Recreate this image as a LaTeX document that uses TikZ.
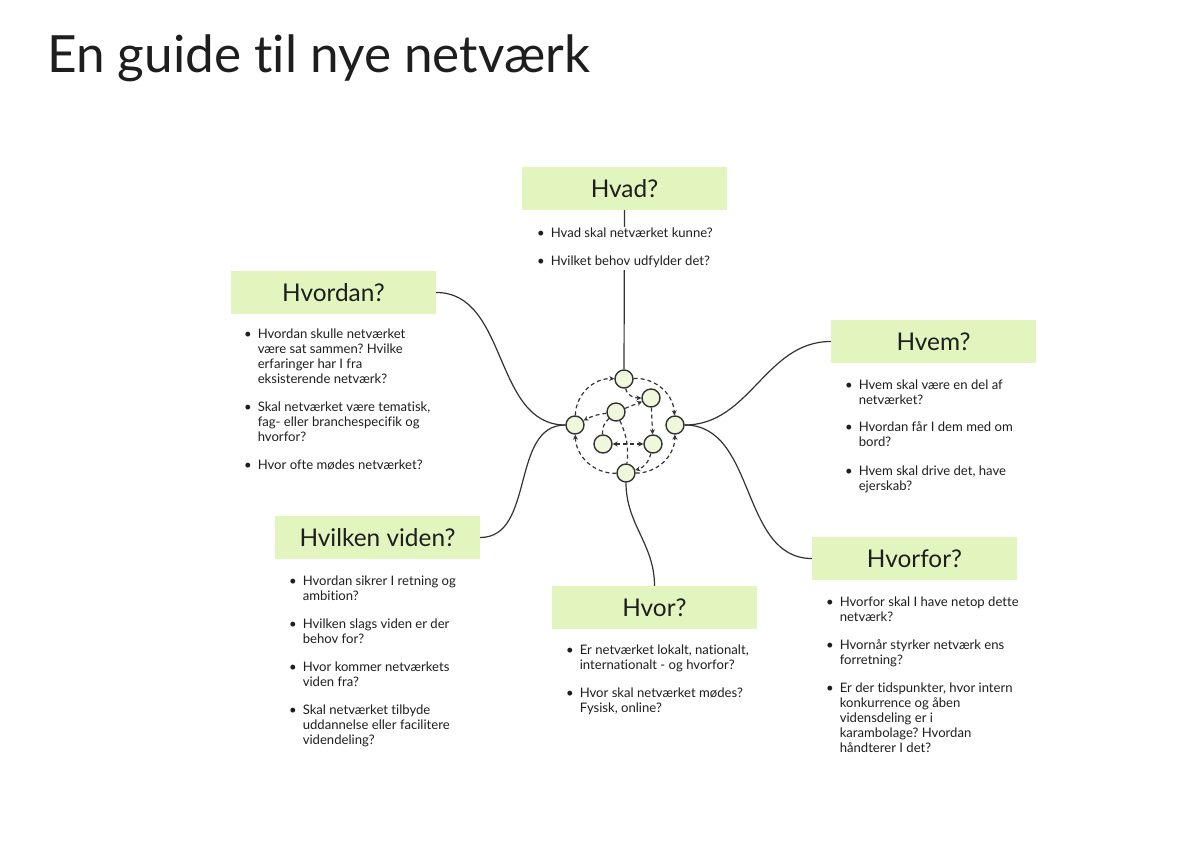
\documentclass[tikz,border=0pt]{standalone}
\usepackage{fontspec}
\setmainfont{Lato}[Ligatures=NoCommon]
\usetikzlibrary{arrows.meta}
\frenchspacing

\definecolor{boxgreen}{HTML}{E2F5BE}
\definecolor{dotgreen}{HTML}{F0F8DC}
\definecolor{inkgray}{HTML}{333333}
\definecolor{textblack}{HTML}{1E1E1E}

\tikzset{
  headbox/.style={fill=boxgreen, minimum width=205pt, minimum height=43pt, inner sep=0pt,
    font=\fontsize{24.4}{28}\selectfont, text=textblack},
  bullets/.style={anchor=base west, inner sep=0pt, font=\fontsize{13.1}{15}\selectfont, text=textblack},
  dot/.style={circle, draw=inkgray, fill=dotgreen, line width=1.4pt, minimum size=18pt, inner sep=0pt},
  link/.style={draw=inkgray, line width=1.2pt},
  flow/.style={draw=inkgray, line width=1.2pt, dash pattern=on 4pt off 3pt},
  tip/.style={-{Stealth[length=5pt,width=5pt]}},
}

\begin{document}
\begin{tikzpicture}[x=1pt,y=1pt]
  \fill[white] (0,0) rectangle (1192,-842);
  \useasboundingbox (0,0) rectangle (1192,-842);

  \node[anchor=base west, inner sep=0pt, font=\fontsize{51.3}{55}\selectfont, text=textblack] (title) at (47,-73) {En guide til nye netværk};

  % question boxes
  \node[headbox] (hvad) at (624.5,-188.5) {Hvad?};
  \node[headbox] (hvordan) at (333.5,-292.5) {Hvordan?};
  \node[headbox] (hvem) at (933.5,-341.5) {Hvem?};
  \node[headbox] (viden) at (377.5,-537.5) {Hvilken viden?};
  \node[headbox] (hvor) at (654.5,-607.5) {Hvor?};
  \node[headbox] (hvorfor) at (914.5,-558.5) {Hvorfor?};

  % network in the middle
  \node[dot] (nT) at (624,-379) {};
  \node[dot] (nUR) at (651,-398) {};
  \node[dot] (nIUL) at (616,-412) {};
  \node[dot] (nL) at (575,-425) {};
  \node[dot] (nR) at (675,-425) {};
  \node[dot] (nILL) at (603,-444) {};
  \node[dot] (nLR) at (653,-444) {};
  \node[dot] (nB) at (626,-473) {};

  \draw[flow,tip] (nL) to[bend left=45] (nT);
  \draw[flow,tip] (nT) to[bend left=45] (nR);
  \draw[flow,tip] (nB) to[bend right=45] (nR);
  \draw[flow,tip] (nB) to[bend left=45] (nL);
  \draw[flow,tip] (nLR) to[bend left=30] (nB);
  \draw[flow,tip] (nIUL) to[bend right=10] (nL);
  \draw[flow,tip] (nT) to[out=-80,in=180] (nUR);
  \draw[flow,tip] (nIUL) -- (nUR);
  \draw[flow,tip] (nUR) -- (nLR);
  \draw[flow,{Stealth[length=5pt,width=5pt]}-{Stealth[length=5pt,width=5pt]}] (nILL) -- (nLR);
  \draw[flow] (nIUL) to[bend left=15] (nB);
  \draw[flow] (nILL) to[bend left=25] (nIUL);

  % connectors
  \draw[link] (hvad) -- (nT);
  \draw[link] (hvordan.east) to[out=0,in=180] (nL.west);
  \draw[link] (viden.east) to[out=0,in=180] (nL.west);
  \draw[link] (hvem.west) to[out=180,in=0] (nR.east);
  \draw[link] (hvorfor.west) to[out=180,in=0] (nR.east);
  \draw[link] (nB.south) to[out=-90,in=90] (hvor.north);

  % bullet texts
  \node[bullets, fill=white] (hvadtxt) at (537,-238) {\begin{tabular}[t]{@{}l@{\hspace{6pt}}l@{}}
    \textbullet & Hvad skal netværket kunne?\\[13pt]
    \textbullet & Hvilket behov udfylder det?
  \end{tabular}};
  \node[bullets] (hvordantxt) at (244,-339) {\begin{tabular}[t]{@{}l@{\hspace{6pt}}l@{}}
    \textbullet & Hvordan skulle netværket\\
    & være sat sammen? Hvilke\\
    & erfaringer har I fra\\
    & eksisterende netværk?\\[13pt]
    \textbullet & Skal netværket være tematisk,\\
    & fag- eller branchespecifik og\\
    & hvorfor?\\[13pt]
    \textbullet & Hvor ofte mødes netværket?
  \end{tabular}};
  \node[bullets] (hvemtxt) at (845,-389) {\begin{tabular}[t]{@{}l@{\hspace{6pt}}l@{}}
    \textbullet & Hvem skal være en del af\\
    & netværket?\\[13pt]
    \textbullet & Hvordan får I dem med om\\
    & bord?\\[13pt]
    \textbullet & Hvem skal drive det, have\\
    & ejerskab?
  \end{tabular}};
  \node[bullets] (videntxt) at (289,-585) {\begin{tabular}[t]{@{}l@{\hspace{6pt}}l@{}}
    \textbullet & Hvordan sikrer I retning og\\
    & ambition?\\[13pt]
    \textbullet & Hvilken slags viden er der\\
    & behov for?\\[13pt]
    \textbullet & Hvor kommer netværkets\\
    & viden fra?\\[13pt]
    \textbullet & Skal netværket tilbyde\\
    & uddannelse eller facilitere\\
    & videndeling?
  \end{tabular}};
  \node[bullets] (hvortxt) at (566,-654) {\begin{tabular}[t]{@{}l@{\hspace{6pt}}l@{}}
    \textbullet & Er netværket lokalt, nationalt,\\
    & internationalt - og hvorfor?\\[13pt]
    \textbullet & Hvor skal netværket mødes?\\
    & Fysisk, online?
  \end{tabular}};
  \node[bullets] (hvorfortxt) at (826,-606) {\begin{tabular}[t]{@{}l@{\hspace{6pt}}l@{}}
    \textbullet & Hvorfor skal I have netop dette\\
    & netværk?\\[13pt]
    \textbullet & Hvornår styrker netværk ens\\
    & forretning?\\[13pt]
    \textbullet & Er der tidspunkter, hvor intern\\
    & konkurrence og åben\\
    & vidensdeling er i\\
    & karambolage? Hvordan\\
    & håndterer I det?
  \end{tabular}};
\end{tikzpicture}
\end{document}
